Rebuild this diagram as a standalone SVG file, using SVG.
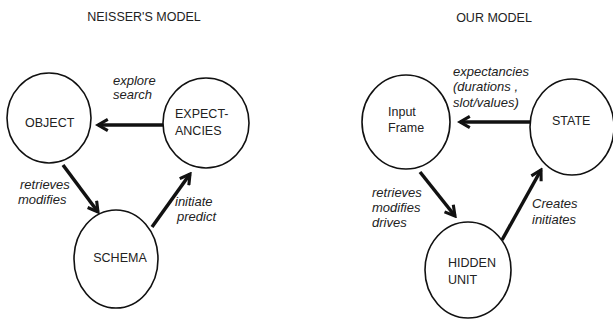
<svg xmlns="http://www.w3.org/2000/svg" width="613" height="321" viewBox="0 0 613 321">
<style>
.node{fill:#fff;stroke:#111;stroke-width:1.6}
.lbl{font-family:"Liberation Sans",Arial,sans-serif;font-size:12.5px;fill:#222}
.it{font-family:"Liberation Sans",Arial,sans-serif;font-size:13px;font-style:italic;fill:#222}
.edge{stroke:#111;stroke-width:3.5;fill:none;marker-end:url(#ah)}
</style>
<defs>
<marker id="ah" viewBox="0 0 10 10" refX="8" refY="5" markerWidth="4" markerHeight="4" orient="auto" markerUnits="strokeWidth">
<path d="M1,1 L8,5 L1,9" fill="none" stroke="#111" stroke-width="2.2"/>
</marker>
</defs>
<rect width="613" height="321" fill="#fff"/>
<text class="lbl" x="144" y="21" text-anchor="middle">NEISSER'S MODEL</text>
<text class="lbl" x="494" y="22" text-anchor="middle">OUR MODEL</text>
<g id="connectors">
<line class="edge" x1="163" y1="125" x2="98" y2="125"/>
<line class="edge" x1="63" y1="165" x2="98" y2="212"/>
<line class="edge" x1="152" y1="227" x2="190" y2="174"/>
<line class="edge" x1="530" y1="122" x2="460" y2="122"/>
<line class="edge" x1="420" y1="172" x2="455" y2="216"/>
<line class="edge" x1="502" y1="240" x2="541" y2="170"/>
<text class="it" x="113" y="85">explore</text>
<text class="it" x="113" y="99">search</text>
<text class="it" x="20" y="189">retrieves</text>
<text class="it" x="18" y="204">modifies</text>
<text class="it" x="175" y="206">initiate</text>
<text class="it" x="177" y="221">predict</text>
<text class="it" x="453" y="76">expectancies</text>
<text class="it" x="453" y="91">(durations ,</text>
<text class="it" x="453" y="107">slot/values)</text>
<text class="it" x="372" y="197">retrieves</text>
<text class="it" x="372" y="212">modifies</text>
<text class="it" x="372" y="227">drives</text>
<text class="it" x="532" y="208">Creates</text>
<text class="it" x="532" y="224">initiates</text>
</g>
<g id="object"><ellipse class="node" cx="49" cy="118" rx="42" ry="45"/><text class="lbl" x="25" y="127">OBJECT</text></g>
<g id="expectancies"><ellipse class="node" cx="206" cy="123" rx="43" ry="45"/><text class="lbl" x="175" y="118">EXPECT-</text><text class="lbl" x="175" y="135">ANCIES</text></g>
<g id="schema"><ellipse class="node" cx="116" cy="259" rx="42" ry="49"/><text class="lbl" x="120" y="262" text-anchor="middle">SCHEMA</text></g>
<g id="input-frame"><ellipse class="node" cx="406" cy="122" rx="44" ry="47"/><text class="lbl" x="388" y="116">Input</text><text class="lbl" x="388" y="132">Frame</text></g>
<g id="state"><ellipse class="node" cx="572" cy="127" rx="42" ry="48"/><text class="lbl" x="552" y="125">STATE</text></g>
<g id="hidden-unit"><ellipse class="node" cx="468" cy="270" rx="43" ry="48"/><text class="lbl" x="448" y="267">HIDDEN</text><text class="lbl" x="448" y="284">UNIT</text></g>
</svg>
